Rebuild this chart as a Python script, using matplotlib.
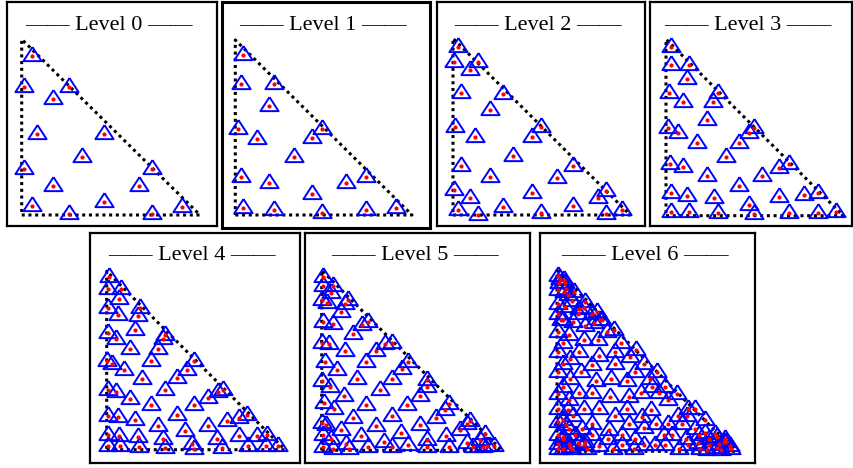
import numpy as np
import matplotlib.pyplot as plt

# quadrature nodes on the reference triangle (0,0)-(1,0)-(0,1), one list per level
lvl0 = [(0.056, 0.905), (0.013, 0.731), (0.265, 0.731), (0.174, 0.660), (0.084, 0.459),
        (0.462, 0.459), (0.336, 0.332), (0.013, 0.262), (0.729, 0.262), (0.174, 0.167),
        (0.660, 0.167), (0.056, 0.053), (0.462, 0.076), (0.265, 0.006), (0.729, 0.006),
        (0.897, 0.047)]

lvl1 = [(0.043, 0.916), (0.034, 0.747), (0.221, 0.747), (0.189, 0.625), (0.015, 0.490),
        (0.491, 0.490), (0.123, 0.434), (0.434, 0.438), (0.330, 0.330), (0.034, 0.219),
        (0.189, 0.181), (0.626, 0.181), (0.742, 0.219), (0.434, 0.118), (0.043, 0.038),
        (0.221, 0.029), (0.491, 0.013), (0.742, 0.029), (0.911, 0.038)]

lvl2 = [(0.028, 0.953), (0.004, 0.864), (0.141, 0.864), (0.098, 0.821), (0.045, 0.689),
        (0.280, 0.685), (0.207, 0.594), (0.013, 0.496), (0.498, 0.496), (0.126, 0.440),
        (0.445, 0.440), (0.338, 0.334), (0.045, 0.277), (0.677, 0.277), (0.207, 0.217),
        (0.586, 0.211), (0.004, 0.142), (0.445, 0.123), (0.865, 0.138), (0.098, 0.094),
        (0.816, 0.094), (0.028, 0.028), (0.141, 0.000), (0.280, 0.047), (0.677, 0.051),
        (0.498, 0.009), (0.863, 0.004), (0.953, 0.028)]

lvl3 = [(0.028, 0.958), (0.026, 0.856), (0.130, 0.856), (0.117, 0.775), (0.019, 0.694),
        (0.295, 0.694), (0.098, 0.643), (0.267, 0.643), (0.233, 0.543), (0.013, 0.499),
        (0.066, 0.471), (0.498, 0.499), (0.470, 0.471), (0.173, 0.414), (0.414, 0.414),
        (0.336, 0.331), (0.023, 0.293), (0.098, 0.274), (0.695, 0.293), (0.639, 0.272),
        (0.233, 0.227), (0.543, 0.227), (0.414, 0.170), (0.026, 0.127), (0.117, 0.113),
        (0.271, 0.102), (0.639, 0.104), (0.778, 0.117), (0.855, 0.127), (0.028, 0.023),
        (0.130, 0.019), (0.295, 0.017), (0.470, 0.060), (0.498, 0.009), (0.694, 0.017),
        (0.855, 0.017), (0.957, 0.023)]

lvl4 = [(0.013, 0.968), (0.009, 0.903), (0.079, 0.903), (0.069, 0.843), (0.009, 0.794),
        (0.187, 0.794), (0.065, 0.753), (0.174, 0.750), (0.159, 0.673), (0.009, 0.654),
        (0.050, 0.622), (0.327, 0.645), (0.318, 0.619), (0.131, 0.566), (0.286, 0.563),
        (0.004, 0.495), (0.028, 0.482), (0.249, 0.495), (0.490, 0.495), (0.097, 0.445),
        (0.449, 0.445), (0.196, 0.398), (0.396, 0.402), (0.006, 0.336), (0.050, 0.323),
        (0.327, 0.333), (0.650, 0.336), (0.626, 0.323), (0.131, 0.286), (0.570, 0.290),
        (0.249, 0.249), (0.490, 0.252), (0.006, 0.187), (0.062, 0.183), (0.396, 0.196),
        (0.789, 0.193), (0.744, 0.179), (0.159, 0.164), (0.673, 0.159), (0.286, 0.133),
        (0.566, 0.133), (0.439, 0.103), (0.009, 0.080), (0.069, 0.077), (0.178, 0.071),
        (0.318, 0.062), (0.617, 0.062), (0.744, 0.075), (0.841, 0.077), (0.897, 0.080),
        (0.009, 0.021), (0.075, 0.019), (0.183, 0.015), (0.327, 0.009), (0.477, 0.034),
        (0.490, 0.006), (0.645, 0.011), (0.791, 0.019), (0.893, 0.019), (0.963, 0.019)]

lvl5 = [(0.009, 0.963), (0.006, 0.913), (0.065, 0.913), (0.050, 0.876), (0.000, 0.833),
        (0.028, 0.820), (0.148, 0.833), (0.130, 0.815), (0.107, 0.769), (0.009, 0.713),
        (0.065, 0.700), (0.259, 0.713), (0.222, 0.698), (0.172, 0.648), (0.000, 0.596),
        (0.043, 0.589), (0.389, 0.596), (0.352, 0.593), (0.302, 0.550), (0.130, 0.550),
        (0.019, 0.491), (0.246, 0.491), (0.481, 0.491), (0.083, 0.448), (0.444, 0.450),
        (0.194, 0.394), (0.392, 0.394), (0.000, 0.385), (0.587, 0.389), (0.583, 0.352),
        (0.046, 0.352), (0.324, 0.333), (0.126, 0.300), (0.546, 0.300), (0.013, 0.263),
        (0.709, 0.259), (0.685, 0.222), (0.068, 0.231), (0.246, 0.254), (0.472, 0.254),
        (0.392, 0.191), (0.635, 0.181), (0.172, 0.181), (0.000, 0.152), (0.024, 0.139),
        (0.302, 0.133), (0.546, 0.139), (0.824, 0.161), (0.806, 0.148), (0.107, 0.111),
        (0.769, 0.111), (0.439, 0.096), (0.217, 0.080), (0.691, 0.080), (0.009, 0.083),
        (0.050, 0.065), (0.583, 0.056), (0.346, 0.046), (0.133, 0.037), (0.907, 0.093),
        (0.880, 0.056), (0.806, 0.043), (0.009, 0.019), (0.065, 0.009), (0.154, 0.006),
        (0.259, 0.019), (0.389, 0.019), (0.481, 0.031), (0.587, 0.019), (0.709, 0.019),
        (0.839, 0.019), (0.917, 0.024), (0.959, 0.024), (0.898, 0.019)]

lvl6 = [(0.006, 0.969), (0.019, 0.950), (0.009, 0.932), (0.043, 0.932), (0.006, 0.890),
        (0.037, 0.880), (0.093, 0.880), (0.062, 0.862), (0.006, 0.816), (0.084, 0.831),
        (0.155, 0.825), (0.043, 0.797), (0.125, 0.788), (0.006, 0.761), (0.196, 0.761),
        (0.224, 0.770), (0.032, 0.724), (0.090, 0.715), (0.243, 0.724), (0.206, 0.711),
        (0.155, 0.692), (0.006, 0.659), (0.069, 0.641), (0.280, 0.659), (0.318, 0.669),
        (0.153, 0.613), (0.230, 0.613), (0.361, 0.599), (0.034, 0.599), (0.006, 0.549),
        (0.125, 0.549), (0.323, 0.549), (0.443, 0.558), (0.075, 0.512), (0.237, 0.525),
        (0.411, 0.521), (0.196, 0.475), (0.032, 0.484), (0.327, 0.484), (0.006, 0.438),
        (0.135, 0.438), (0.439, 0.438), (0.486, 0.484), (0.561, 0.438), (0.075, 0.401),
        (0.303, 0.401), (0.523, 0.401), (0.393, 0.387), (0.221, 0.389), (0.032, 0.355),
        (0.607, 0.355), (0.473, 0.322), (0.006, 0.319), (0.125, 0.322), (0.196, 0.322),
        (0.299, 0.300), (0.406, 0.300), (0.673, 0.319), (0.570, 0.322), (0.065, 0.285),
        (0.622, 0.282), (0.006, 0.236), (0.153, 0.236), (0.237, 0.236), (0.393, 0.236),
        (0.733, 0.236), (0.776, 0.236), (0.529, 0.227), (0.062, 0.230), (0.090, 0.195),
        (0.327, 0.195), (0.477, 0.190), (0.729, 0.195), (0.677, 0.195), (0.006, 0.162),
        (0.032, 0.175), (0.196, 0.153), (0.406, 0.149), (0.555, 0.149), (0.622, 0.153),
        (0.832, 0.171), (0.701, 0.149), (0.065, 0.125), (0.140, 0.125), (0.290, 0.116),
        (0.486, 0.131), (0.776, 0.125), (0.006, 0.088), (0.099, 0.088), (0.196, 0.088),
        (0.364, 0.088), (0.598, 0.088), (0.645, 0.088), (0.888, 0.098), (0.897, 0.079),
        (0.794, 0.088), (0.032, 0.070), (0.284, 0.070), (0.439, 0.070), (0.723, 0.070),
        (0.850, 0.070), (0.940, 0.070), (0.006, 0.042), (0.065, 0.042), (0.125, 0.042),
        (0.153, 0.037), (0.234, 0.028), (0.364, 0.033), (0.486, 0.033), (0.551, 0.037),
        (0.607, 0.037), (0.733, 0.033), (0.850, 0.037), (0.907, 0.042), (0.950, 0.052),
        (0.006, 0.015), (0.032, 0.015), (0.084, 0.015), (0.168, 0.015), (0.314, 0.015),
        (0.430, 0.015), (0.682, 0.015), (0.804, 0.015), (0.897, 0.018), (0.972, 0.028),
        (0.041, 0.946), (0.049, 0.897), (0.153, 0.793), (0.116, 0.757), (0.251, 0.725),
        (0.024, 0.725), (0.035, 0.081), (0.120, 0.044), (0.157, 0.050), (0.073, 0.025),
        (0.050, 0.145), (0.535, 0.357), (0.937, 0.050), (0.975, 0.012), (0.920, 0.007),
        (0.840, 0.007), (0.793, 0.044), (0.830, 0.099)]

levels = [lvl0, lvl1, lvl2, lvl3, lvl4, lvl5, lvl6]

W, H = 854, 468
# panel frame (x0, y0, x1, y1) and triangle extent (x0, top, x1, bottom), in pixels
frames = [(7, 2, 217, 226), (222, 2, 430, 228), (437, 2, 645, 226), (650, 2, 852, 226),
          (90, 233, 300, 463), (305, 233, 530, 463), (540, 233, 755, 463)]
tris = [(21.7, 39.3, 200, 215), (235.3, 40, 412, 215), (453, 38.3, 630.3, 215),
        (666, 39.3, 843.3, 215.7), (106.7, 271.3, 285, 449.7), (321.7, 270.3, 501.7, 450.3),
        (557, 270.3, 735.3, 451.3)]

# triangle marker with the dot at its centroid
tri_marker = [(0, 1.03), (-1, -0.51), (1, -0.51), (0, 1.03)]

fig = plt.figure(figsize=(W / 100, H / 100), dpi=100)

for i, pts in enumerate(levels):
    bx0, by0, bx1, by1 = frames[i]
    tx0, ty0, tx1, ty1 = tris[i]
    ax = fig.add_axes([bx0 / W, 1 - by1 / H, (bx1 - bx0) / W, (by1 - by0) / H])
    sx = tx1 - tx0
    sy = ty1 - ty0
    ax.set_xlim((bx0 - tx0) / sx, (bx1 - tx0) / sx)
    ax.set_ylim((ty1 - by1) / sy, (ty1 - by0) / sy)
    ax.set_xticks([])
    ax.set_yticks([])
    for s in ax.spines.values():
        s.set_linewidth(2.2 if i == 1 else 1.6)
        s.set_color('black')

    ax.plot([0, 1, 0, 0], [0, 0, 1, 0], color='black', lw=2.2,
            linestyle=(0, (1, 1.2)), zorder=1)

    P = np.array(pts)
    ax.plot(P[:, 0], P[:, 1], linestyle='none', marker=tri_marker, markersize=13.5,
            markerfacecolor='none', markeredgecolor='#0000ff', markeredgewidth=1.4, zorder=2)
    ax.plot(P[:, 0], P[:, 1], linestyle='none', marker='o', markersize=3.0,
            color='red', markeredgewidth=0, zorder=3)

    ty = 1 - 27.5 / (by1 - by0)
    tx = 0.5 - 3 / (bx1 - bx0)
    ax.text(tx, ty, '\u2014\u2014 Level %d \u2014\u2014' % i, transform=ax.transAxes,
            ha='center', va='baseline', fontsize=16, family='Liberation Serif')

fig.savefig('out.png', dpi=100)
